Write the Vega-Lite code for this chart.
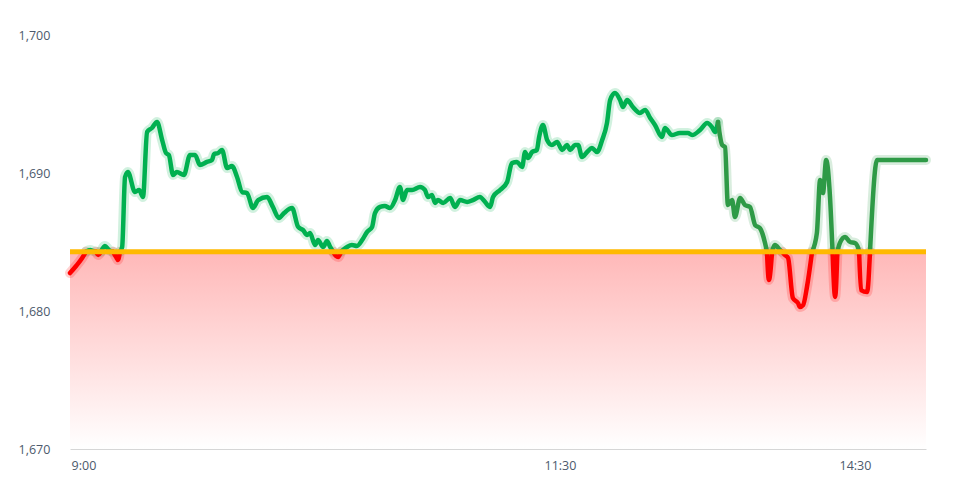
{
  "$schema": "https://vega.github.io/schema/vega-lite/v6.json",
  "width": 856,
  "height": 414,
  "autosize": {"type": "none"},
  "padding": {"left": 70, "right": 49, "top": 35, "bottom": 29},
  "background": "#ffffff",
  "config": {"view": {"stroke": null}, "font": "Open Sans"},
  "datasets": {
    "ref": [{"i": 0, "v": 1684.3}, {"i": 267.5, "v": 1684.3}],
    "px": [
      {"s":1,"c":"r","i":0,"v":1682.75},{"s":1,"c":"r","i":1.9,"v":1683.26},{"s":1,"c":"r","i":3.8,"v":1683.84},{"s":1,"c":"r","i":5,"v":1684.3},
      {"s":2,"c":"g","i":5,"v":1684.3},{"s":2,"c":"g","i":6.3,"v":1684.42},{"s":2,"c":"g","i":7.2,"v":1684.35},{"s":2,"c":"g","i":8.1,"v":1684.3},
      {"s":3,"c":"r","i":8.1,"v":1684.3},{"s":3,"c":"r","i":8.8,"v":1684.06},{"s":3,"c":"r","i":9.7,"v":1684.3},
      {"s":4,"c":"g","i":9.7,"v":1684.3},{"s":4,"c":"g","i":10.9,"v":1684.71},{"s":4,"c":"g","i":12.2,"v":1684.42},{"s":4,"c":"g","i":13.4,"v":1684.3},
      {"s":5,"c":"r","i":13.4,"v":1684.3},{"s":5,"c":"r","i":14.4,"v":1683.91},{"s":5,"c":"r","i":15,"v":1683.7},{"s":5,"c":"r","i":15.6,"v":1684.3},
      {"s":6,"c":"g","i":15.6,"v":1684.3},{"s":6,"c":"g","i":16.3,"v":1684.64},{"s":6,"c":"g","i":17.2,"v":1689.71},{"s":6,"c":"g","i":18.1,"v":1690.07},{"s":6,"c":"g","i":20.3,"v":1688.62},{"s":6,"c":"g","i":21.6,"v":1688.77},{"s":6,"c":"g","i":22.8,"v":1688.26},{"s":6,"c":"g","i":24.1,"v":1692.97},{"s":6,"c":"g","i":25.6,"v":1693.26},{"s":6,"c":"g","i":27.2,"v":1693.7},{"s":6,"c":"g","i":28.8,"v":1692.39},{"s":6,"c":"g","i":30,"v":1691.45},{"s":6,"c":"g","i":30.9,"v":1691.3},{"s":6,"c":"g","i":32.2,"v":1689.86},{"s":6,"c":"g","i":33.4,"v":1690.07},{"s":6,"c":"g","i":35.6,"v":1689.86},{"s":6,"c":"g","i":37.5,"v":1691.3},{"s":6,"c":"g","i":39.1,"v":1691.3},{"s":6,"c":"g","i":40.6,"v":1690.58},{"s":6,"c":"g","i":42.8,"v":1690.8},{"s":6,"c":"g","i":44.4,"v":1690.94},{"s":6,"c":"g","i":45,"v":1691.38},{"s":6,"c":"g","i":46.3,"v":1691.45},{"s":6,"c":"g","i":47.5,"v":1691.67},{"s":6,"c":"g","i":49.1,"v":1690.36},{"s":6,"c":"g","i":50.6,"v":1690.51},{"s":6,"c":"g","i":52.2,"v":1689.71},{"s":6,"c":"g","i":53.8,"v":1688.62},{"s":6,"c":"g","i":55.3,"v":1688.55},{"s":6,"c":"g","i":57.2,"v":1687.46},{"s":6,"c":"g","i":58.8,"v":1688.04},{"s":6,"c":"g","i":61.6,"v":1688.26},{"s":6,"c":"g","i":63.4,"v":1687.54},{"s":6,"c":"g","i":65.3,"v":1686.74},{"s":6,"c":"g","i":66.9,"v":1687.1},{"s":6,"c":"g","i":69.4,"v":1687.46},{"s":6,"c":"g","i":71.3,"v":1686.09},{"s":6,"c":"g","i":72.8,"v":1685.87},{"s":6,"c":"g","i":74.1,"v":1685.51},{"s":6,"c":"g","i":75,"v":1685.65},{"s":6,"c":"g","i":76.6,"v":1684.78},{"s":6,"c":"g","i":77.5,"v":1685.14},{"s":6,"c":"g","i":79.1,"v":1684.64},{"s":6,"c":"g","i":80.3,"v":1685.07},{"s":6,"c":"g","i":81.3,"v":1684.64},{"s":6,"c":"g","i":82.2,"v":1684.3},
      {"s":7,"c":"r","i":82.2,"v":1684.3},{"s":7,"c":"r","i":83.1,"v":1683.99},{"s":7,"c":"r","i":83.8,"v":1683.91},{"s":7,"c":"r","i":84.7,"v":1684.3},
      {"s":8,"c":"g","i":84.7,"v":1684.3},{"s":8,"c":"g","i":85.3,"v":1684.42},{"s":8,"c":"g","i":86.6,"v":1684.64},{"s":8,"c":"g","i":88.1,"v":1684.78},{"s":8,"c":"g","i":89.7,"v":1684.71},{"s":8,"c":"g","i":91.3,"v":1685.14},{"s":8,"c":"g","i":92.8,"v":1685.72},{"s":8,"c":"g","i":94.4,"v":1686.09},{"s":8,"c":"g","i":95.3,"v":1687.1},{"s":8,"c":"g","i":96.9,"v":1687.54},{"s":8,"c":"g","i":98.4,"v":1687.61},{"s":8,"c":"g","i":100,"v":1687.46},{"s":8,"c":"g","i":101.6,"v":1688.04},{"s":8,"c":"g","i":103.1,"v":1688.99},{"s":8,"c":"g","i":104.1,"v":1688.04},{"s":8,"c":"g","i":105.3,"v":1688.77},{"s":8,"c":"g","i":106.9,"v":1688.77},{"s":8,"c":"g","i":109.4,"v":1688.99},{"s":8,"c":"g","i":110.9,"v":1688.77},{"s":8,"c":"g","i":111.9,"v":1688.26},{"s":8,"c":"g","i":113.1,"v":1688.41},{"s":8,"c":"g","i":114.1,"v":1687.83},{"s":8,"c":"g","i":115,"v":1688.04},{"s":8,"c":"g","i":116.6,"v":1687.83},{"s":8,"c":"g","i":118.8,"v":1688.19},{"s":8,"c":"g","i":120.3,"v":1687.54},{"s":8,"c":"g","i":121.9,"v":1688.04},{"s":8,"c":"g","i":124.1,"v":1687.9},{"s":8,"c":"g","i":125.9,"v":1688.04},{"s":8,"c":"g","i":128.1,"v":1688.26},{"s":8,"c":"g","i":129.7,"v":1687.9},{"s":8,"c":"g","i":131.3,"v":1687.54},{"s":8,"c":"g","i":132.2,"v":1688.26},{"s":8,"c":"g","i":134.4,"v":1688.77},{"s":8,"c":"g","i":136.6,"v":1689.35},{"s":8,"c":"g","i":138.1,"v":1690.72},{"s":8,"c":"g","i":139.7,"v":1690.8},{"s":8,"c":"g","i":141.3,"v":1690.43},{"s":8,"c":"g","i":142.2,"v":1691.52},{"s":8,"c":"g","i":143.1,"v":1691.09},{"s":8,"c":"g","i":144.4,"v":1691.52},{"s":8,"c":"g","i":145.9,"v":1691.67},{"s":8,"c":"g","i":146.6,"v":1692.61},{"s":8,"c":"g","i":147.8,"v":1693.48},{"s":8,"c":"g","i":149.1,"v":1692.39},{"s":8,"c":"g","i":150.6,"v":1692.03},{"s":8,"c":"g","i":152.2,"v":1692.25},{"s":8,"c":"g","i":153.8,"v":1691.67},{"s":8,"c":"g","i":155.3,"v":1692.03},{"s":8,"c":"g","i":156.3,"v":1691.67},{"s":8,"c":"g","i":157.8,"v":1692.03},{"s":8,"c":"g","i":158.8,"v":1692.03},{"s":8,"c":"g","i":160,"v":1691.16},{"s":8,"c":"g","i":161.6,"v":1691.52},{"s":8,"c":"g","i":163.1,"v":1691.81},{"s":8,"c":"g","i":164.7,"v":1691.52},{"s":8,"c":"g","i":166.3,"v":1692.39},{"s":8,"c":"g","i":167.8,"v":1693.62},{"s":8,"c":"g","i":168.8,"v":1695.29},{"s":8,"c":"g","i":170.3,"v":1695.8},{"s":8,"c":"g","i":171.9,"v":1695.29},{"s":8,"c":"g","i":172.8,"v":1694.78},{"s":8,"c":"g","i":174.1,"v":1695.29},{"s":8,"c":"g","i":175.9,"v":1694.78},{"s":8,"c":"g","i":178.1,"v":1694.35},{"s":8,"c":"g","i":179.7,"v":1694.57},{"s":8,"c":"g","i":181.3,"v":1693.99},{"s":8,"c":"g","i":182.8,"v":1693.48},{"s":8,"c":"g","i":185,"v":1692.61},{"s":8,"c":"g","i":185.9,"v":1693.26},{"s":8,"c":"g","i":188.1,"v":1692.75},{"s":8,"c":"g","i":190.6,"v":1692.9},{"s":8,"c":"g","i":193.1,"v":1692.9},{"s":8,"c":"g","i":194.4,"v":1692.75},{"s":8,"c":"g","i":196.9,"v":1693.12},{"s":8,"c":"g","i":199.1,"v":1693.62},{"s":8,"c":"g","i":200.6,"v":1693.33},{"s":8,"c":"g","i":201.6,"v":1692.97},{"s":8,"c":"g","i":202.5,"v":1693.7},
      {"s":9,"c":"d","i":202.5,"v":1693.7},{"s":9,"c":"d","i":203.8,"v":1692.03},{"s":9,"c":"d","i":204.7,"v":1691.88},{"s":9,"c":"d","i":205.6,"v":1687.68},{"s":9,"c":"d","i":206.9,"v":1688.04},{"s":9,"c":"d","i":207.8,"v":1686.81},{"s":9,"c":"d","i":209.4,"v":1688.19},{"s":9,"c":"d","i":210.9,"v":1687.68},{"s":9,"c":"d","i":212.5,"v":1687.54},{"s":9,"c":"d","i":214.1,"v":1686.23},{"s":9,"c":"d","i":215.6,"v":1686.01},{"s":9,"c":"d","i":217.2,"v":1684.93},{"s":9,"c":"d","i":217.8,"v":1684.3},
      {"s":10,"c":"r","i":217.8,"v":1684.3},{"s":10,"c":"r","i":218.4,"v":1682.25},{"s":10,"c":"r","i":219.4,"v":1684.3},
      {"s":11,"c":"d","i":219.4,"v":1684.3},{"s":11,"c":"d","i":220.3,"v":1684.78},{"s":11,"c":"d","i":221.9,"v":1684.42},{"s":11,"c":"d","i":222.5,"v":1684.3},
      {"s":12,"c":"r","i":222.5,"v":1684.3},{"s":12,"c":"r","i":223.4,"v":1684.06},{"s":12,"c":"r","i":224.4,"v":1683.84},{"s":12,"c":"r","i":225.9,"v":1680.94},{"s":12,"c":"r","i":227.5,"v":1680.58},{"s":12,"c":"r","i":228.1,"v":1680.29},{"s":12,"c":"r","i":229.1,"v":1680.43},{"s":12,"c":"r","i":230.3,"v":1681.74},{"s":12,"c":"r","i":231.9,"v":1684.3},
      {"s":13,"c":"d","i":231.9,"v":1684.3},{"s":13,"c":"d","i":233.4,"v":1685.65},{"s":13,"c":"d","i":234.4,"v":1689.49},{"s":13,"c":"d","i":235.3,"v":1688.55},{"s":13,"c":"d","i":236.3,"v":1690.94},{"s":13,"c":"d","i":237.5,"v":1688.26},{"s":13,"c":"d","i":238.3,"v":1684.3},
      {"s":14,"c":"r","i":238.3,"v":1684.3},{"s":14,"c":"r","i":239.1,"v":1681.01},{"s":14,"c":"r","i":239.8,"v":1684.3},
      {"s":15,"c":"d","i":239.8,"v":1684.3},{"s":15,"c":"d","i":240.6,"v":1684.93},{"s":15,"c":"d","i":242.2,"v":1685.36},{"s":15,"c":"d","i":243.8,"v":1685.0},{"s":15,"c":"d","i":245.3,"v":1684.93},{"s":15,"c":"d","i":246.3,"v":1684.57},{"s":15,"c":"d","i":246.6,"v":1684.3},
      {"s":16,"c":"r","i":246.6,"v":1684.3},{"s":16,"c":"r","i":247.2,"v":1681.52},{"s":16,"c":"r","i":249.1,"v":1681.38},{"s":16,"c":"r","i":250,"v":1684.3},
      {"s":17,"c":"d","i":250,"v":1684.3},{"s":17,"c":"d","i":252.2,"v":1690.94},{"s":17,"c":"d","i":253.1,"v":1690.94},{"s":17,"c":"d","i":267.5,"v":1690.94}
    ]
  },
  "encoding": {
    "x": {
      "field": "i", "type": "quantitative",
      "scale": {"domain": [0, 267.5], "nice": false, "zero": false},
      "axis": {
        "title": null, "grid": false, "ticks": false, "tickSize": 0,
        "values": [4.2, 153.1, 245.3],
        "labelExpr": "datum.value < 50 ? '9:00' : (datum.value < 200 ? '11:30' : '14:30')",
        "domainColor": "#d6d6d6", "domainWidth": 1,
        "labelColor": "#4d5a6c", "labelFontSize": 12.5, "labelPadding": 10,
        "labelFont": "Open Sans"
      }
    },
    "y": {
      "field": "v", "type": "quantitative",
      "scale": {"domain": [1670, 1700], "nice": false, "zero": false},
      "axis": {
        "title": null, "grid": false, "ticks": false, "tickSize": 0, "domain": false,
        "values": [1670, 1680, 1690, 1700], "format": ",.0f",
        "labelAlign": "left", "labelPadding": 52,
        "labelColor": "#4d5a6c", "labelFontSize": 12.5, "labelFont": "Open Sans"
      }
    }
  },
  "layer": [
    {
      "data": {"name": "ref"},
      "mark": {
        "type": "area",
        "color": {
          "gradient": "linear", "x1": 0, "y1": 0, "x2": 0, "y2": 1,
          "stops": [{"offset": 0, "color": "#ffb8b8"}, {"offset": 1, "color": "#ffffff"}]
        }
      },
      "encoding": {"y2": {"datum": 1670}}
    },
    {
      "data": {"name": "px"},
      "mark": {"type": "line", "interpolate": "monotone", "strokeWidth": 10, "opacity": 0.18, "strokeCap": "round", "strokeJoin": "round"},
      "encoding": {
        "color": {"field": "c", "type": "nominal", "scale": {"domain": ["g", "d", "r"], "range": ["#00b050", "#2e9a46", "#ff0000"]}, "legend": null},
        "detail": {"field": "s"}
      }
    },
    {
      "data": {"name": "px"},
      "mark": {"type": "line", "interpolate": "monotone", "strokeWidth": 4.5, "strokeCap": "round", "strokeJoin": "round"},
      "encoding": {
        "color": {"field": "c", "type": "nominal", "scale": {"domain": ["g", "d", "r"], "range": ["#00b050", "#2e9a46", "#ff0000"]}, "legend": null},
        "detail": {"field": "s"}
      }
    },
    {
      "data": {"name": "ref"},
      "mark": {"type": "line", "color": "#ffb900", "strokeWidth": 5},
      "encoding": {}
    }
  ]
}
